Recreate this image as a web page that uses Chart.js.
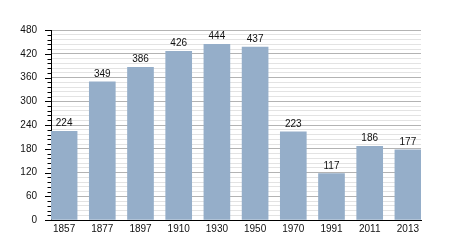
<!DOCTYPE html>
<html><head><meta charset="utf-8">
<script src="https://cdn.jsdelivr.net/npm/chart.js@4/dist/chart.umd.min.js"></script>
<style>html,body{margin:0;padding:0;background:#fff}#wrap{width:450px;height:250px}</style>
</head><body><div id="wrap"><canvas id="c"></canvas></div>
<script>
const years = ['1857','1877','1897','1910','1930','1950','1970','1991','2011','2013'];
const population = [224,349,386,426,444,437,223,117,186,177];
const yMin = 0, yMax = 480, yMajorStep = 60, yMinorStep = 12;

const FONT = {family: "'Liberation Sans', Arial, sans-serif", size: 10};

const valueLabels = {
  id: 'valueLabels',
  afterDatasetsDraw(chart) {
    const ctx = chart.ctx;
    const meta = chart.getDatasetMeta(0);
    ctx.save();
    ctx.font = `${FONT.size}px ${FONT.family}`;
    ctx.fillStyle = '#111';
    ctx.textAlign = 'center';
    ctx.textBaseline = 'alphabetic';
    meta.data.forEach((bar, i) => {
      ctx.fillText(String(population[i]), bar.x, bar.y - 5);
    });
    ctx.restore();
  }
};

const axisTicks = {
  id: 'axisTicks',
  afterDraw(chart) {
    const ctx = chart.ctx;
    const y = chart.scales.y;
    const left = chart.chartArea.left;
    ctx.save();
    ctx.strokeStyle = '#000';
    ctx.lineWidth = 1;
    for (let v = yMin; v <= yMax; v += yMinorStep) {
      const py = Math.round(y.getPixelForValue(v)) + 0.5;
      const len = (v % yMajorStep === 0) ? 6 : 3.5;
      ctx.beginPath();
      ctx.moveTo(left - len, py);
      ctx.lineTo(left, py);
      ctx.stroke();
    }
    ctx.restore();
  }
};

new Chart(document.getElementById('c'), {
  type: 'bar',
  data: {
    datasets: [{
      data: population.map((v, i) => ({x: i, y: v})),
      backgroundColor: '#95aec9',
      borderWidth: 0,
      barThickness: 26
    }]
  },
  options: {
    responsive: true,
    maintainAspectRatio: false,
    animation: false,
    events: [],
    layout: {padding: {top: 30, right: 29, bottom: 0, left: 0}},
    plugins: {legend: {display: false}, tooltip: {enabled: false}},
    scales: {
      x: {
        type: 'linear',
        offset: false,
        min: -0.343,
        max: 9.343,
        afterBuildTicks(scale) { scale.ticks = years.map((_, i) => ({value: i})); },
        afterFit(scale) { scale.height = 30; },
        ticks: {
          autoSkip: false,
          maxRotation: 0,
          padding: 3,
          color: '#111',
          font: FONT,
          callback: (v) => years[v] ?? ''
        },
        grid: {display: false, drawTicks: false, offset: false},
        border: {display: true, color: '#000', width: 1}
      },
      y: {
        min: yMin,
        max: yMax,
        afterFit(scale) { scale.width = 51; },
        ticks: {
          stepSize: yMinorStep,
          autoSkip: false,
          padding: 14,
          color: '#111',
          font: FONT,
          callback: (v) => (v % yMajorStep === 0 ? String(v) : '')
        },
        grid: {
          drawTicks: false,
          color: (c) => (c.tick && c.tick.value % yMajorStep === 0) ? '#b3b3b3' : '#e3e3e3',
          lineWidth: 1
        },
        border: {display: true, color: '#000', width: 1}
      }
    }
  },
  plugins: [valueLabels, axisTicks]
});
</script>
</body></html>
